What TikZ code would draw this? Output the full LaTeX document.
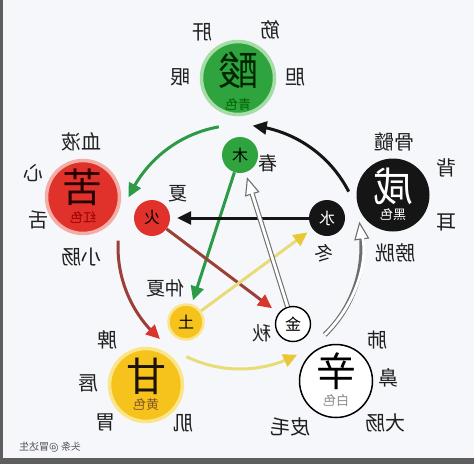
\documentclass[tikz,border=0pt]{standalone}
\usepackage{fontspec}
\usepackage{graphicx}
\newfontfamily\cjk{Noto Sans CJK SC}
\usetikzlibrary{arrows.meta,bending}
\definecolor{bgc}{HTML}{F6F7FB}
\definecolor{edgec}{HTML}{5E5E5E}
\definecolor{grn}{HTML}{2FA43E}
\definecolor{grnglow}{HTML}{A6DCA6}
\definecolor{rd}{HTML}{E0322B}
\definecolor{rdglow}{HTML}{F2AFA8}
\definecolor{ylw}{HTML}{F6C21C}
\definecolor{ylwglow}{HTML}{FBE58A}
\definecolor{blk}{HTML}{151515}
\definecolor{arrgrn}{HTML}{2C9A46}
\definecolor{arrbrn}{HTML}{9A4038}
\definecolor{arrred}{HTML}{D8352C}
\definecolor{arrylw}{HTML}{E8DC78}
\definecolor{arrylwtip}{HTML}{E8C836}
\definecolor{arrgry}{HTML}{6E6E6E}
\definecolor{txtc}{HTML}{202020}
\newcommand{\mirr}[1]{\reflectbox{#1}}
\begin{document}
\begin{tikzpicture}[x=1pt,y=1pt,yscale=-1,
  lbl/.style={font=\cjk\fontsize{20}{20}\selectfont, inner sep=0pt, text=txtc},
  season/.style={font=\cjk\fontsize{19}{19}\selectfont, inner sep=0pt, text=txtc},
  bigtxt/.style={font=\cjk\fontsize{40}{40}\selectfont, inner sep=0pt},
  subtxt/.style={font=\cjk\fontsize{13}{13}\selectfont, inner sep=0pt},
  bigc/.style={circle, inner sep=0pt, minimum size=73pt},
  smallc/.style={circle, inner sep=0pt, minimum size=36pt, font=\cjk\fontsize{16}{16}\selectfont},
  tipa/.style={-{Triangle[length=14pt,width=13pt,#1]}},
  arcline/.style={line width=3pt},
  starline/.style={line width=3pt}
]
\useasboundingbox (0,0) rectangle (474,464);
\fill[bgc] (0,0) rectangle (474,464);
\fill[edgec] (0,0) rectangle (3,464);
\fill[edgec] (0,458) rectangle (474,464);

\coordinate (O) at (240,247);

% outer generating cycle arcs
\draw[arcline, arrgrn, tipa={}] (O) ++(260:122) arc[start angle=260, end angle=204, radius=122];
\draw[arcline, blk, tipa={}] (O) ++(333:122) arc[start angle=333, end angle=276, radius=122];
\draw[arcline, arrbrn, tipa={color=arrred}] (O) ++(183:122) arc[start angle=183, end angle=131, radius=122];
\draw[arcline, arrylw, tipa={color=arrylwtip}] (O) ++(116:122) arc[start angle=116, end angle=62, radius=122];
\draw[line width=5pt, arrgry, -{Triangle[length=18pt,width=15pt,line width=1.1pt,fill=white]}] (O) ++(46:122) arc[start angle=46, end angle=-12, radius=122];
\draw[line width=2.8pt, white, shorten >=16pt] (O) ++(46:122) arc[start angle=46, end angle=-12, radius=122];

% big circles
\node[bigc, fill=grn, draw=grnglow, line width=3.5pt] (suan) at (238,78) {};
\node[bigc, fill=rd, draw=rdglow, line width=3.5pt] (ku) at (83,197) {};
\node[bigc, fill=blk] (xian) at (393,195) {};
\node[bigc, fill=ylw, draw=ylwglow, line width=3.5pt] (gan) at (146,385) {};
\node[bigc, fill=white, draw=black, line width=1.5pt] (xin) at (336,381) {};

\node[bigtxt, text=black!85!green] (suanT) at (238,70) {\mirr{酸}};
\node[subtxt, text=green!40!black] (suanS) at (238,105) {\mirr{青色}};
\node[bigtxt, text=black!85!red] (kuT) at (83,187) {\mirr{苦}};
\node[subtxt, text=red!60!black] (kuS) at (83,217) {\mirr{红色}};
\node[bigtxt, text=white] (xianT) at (393,186) {\mirr{咸}};
\node[subtxt, text=white] (xianS) at (393,215) {\mirr{黑色}};
\node[bigtxt, text=black!85!brown] (ganT) at (146,376) {\mirr{甘}};
\node[subtxt, text=brown!70!black] (ganS) at (146,405) {\mirr{黄色}};
\node[bigtxt, text=black] (xinT) at (336,371) {\mirr{辛}};
\node[subtxt, text=black!45] (xinS) at (336,401) {\mirr{白色}};

% small circles
\node[smallc, fill=grn, text=black] (mu) at (240,155) {\mirr{木}};
\node[smallc, fill=rd, text=black] (huo) at (152,218) {\mirr{火}};
\node[smallc, fill=blk, text=white] (shui) at (327,218) {\mirr{水}};
\node[smallc, fill=ylw, draw=ylwglow, line width=2.5pt, minimum size=35pt, text=black] (tu) at (186,322) {\mirr{土}};
\node[smallc, fill=white, draw=black, line width=1.4pt, minimum size=35pt, text=black] (jin) at (293,324) {\mirr{金}};

% inner controlling star
\draw[starline, arrgrn, tipa={}, shorten >=4pt] (mu) -- (tu);
\draw[starline, arrbrn, tipa={color=arrred}, shorten >=8pt] (huo) -- (jin);
\draw[starline, arrylw, tipa={color=arrylwtip}, shorten >=6pt] (tu) -- (shui);
\draw[starline, blk, tipa={}, shorten >=7pt] (shui) -- (huo);
\draw[line width=5pt, arrgry, -{Triangle[length=18pt,width=15pt,line width=1.1pt,fill=white]}, shorten >=5pt] (jin) -- (mu);
\draw[line width=2.8pt, white, shorten >=21pt] (jin) -- (mu);

% seasons
\node[season] (chun) at (268,163) {\mirr{春}};
\node[season] (xia) at (178,194) {\mirr{夏}};
\node[season] (dong) at (324,253) {\mirr{冬}};
\node[season] (zhongxia) at (165,288) {\mirr{仲夏}};
\node[season] (qiu) at (262,333) {\mirr{秋}};

% organ labels
\node[lbl] (l1) at (202,32) {\mirr{肝}};
\node[lbl] (l2) at (270,30) {\mirr{筋}};
\node[lbl] (l3) at (180,77) {\mirr{眼}};
\node[lbl] (l4) at (295,77) {\mirr{胆}};

\node[lbl] (l5) at (82,142) {\mirr{血液}};
\node[lbl] (l6) at (33,173) {\mirr{心}};
\node[lbl] (l7) at (38,220) {\mirr{舌}};
\node[lbl] (l8) at (82,257) {\mirr{小肠}};

\node[lbl] (l9) at (394,142) {\mirr{骨髓}};
\node[lbl] (l10) at (446,168) {\mirr{背}};
\node[lbl] (l11) at (446,222) {\mirr{耳}};
\node[lbl] (l12) at (395,253) {\mirr{膀胱}};

\node[lbl] (l13) at (107,340) {\mirr{脾}};
\node[lbl] (l14) at (88,383) {\mirr{唇}};
\node[lbl] (l15) at (105,422) {\mirr{胃}};
\node[lbl] (l16) at (183,423) {\mirr{肌}};

\node[lbl] (l17) at (377,340) {\mirr{肺}};
\node[lbl] (l18) at (388,378) {\mirr{鼻}};
\node[lbl] (l19) at (385,423) {\mirr{大肠}};
\node[lbl] (l20) at (290,427) {\mirr{皮毛}};

\node[font=\cjk\fontsize{10}{10}\selectfont, inner sep=0pt, text=black!70] (wm) at (50,447) {\mirr{头条 @冒达生}};
\end{tikzpicture}
\end{document}
